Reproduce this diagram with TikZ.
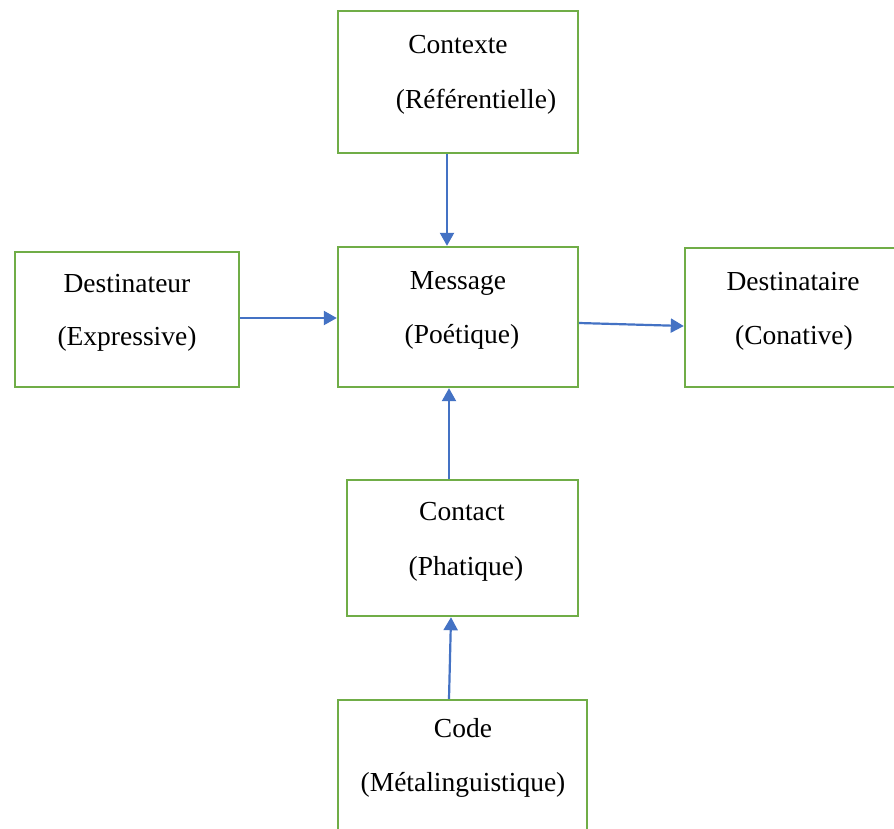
\documentclass[tikz,border=0pt]{standalone}
\usepackage{fontspec}
\setmainfont{Liberation Serif}
\usetikzlibrary{arrows.meta}
\definecolor{boxgreen}{HTML}{70AD47}
\definecolor{arrowblue}{HTML}{4472C4}
\tikzset{
  box/.style={draw=boxgreen, line width=2.4pt, rectangle, inner sep=0pt},
  lbl/.style={anchor=base, inner sep=0pt, font=\fontsize{27.5}{33}\selectfont},
  conn/.style={draw=arrowblue, line width=2.2pt, -{Triangle[length=13pt,width=14pt]}}
}
\begin{document}
\begin{tikzpicture}[x=1pt,y=-1pt]
\useasboundingbox (0,0) rectangle (894,828);
\clip (0,0) rectangle (894,828);
\fill[white] (0,0) rectangle (894,828);
% boxes
\node[box, minimum width=240pt, minimum height=142pt] (ctx) at (458,82) {};
\node[box, minimum width=240pt, minimum height=140pt] (msg) at (458,317) {};
\node[box, minimum width=224pt, minimum height=135pt] (dst) at (127,319.5) {};
\node[box, minimum width=240pt, minimum height=139pt] (dte) at (805,317.5) {};
\node[box, minimum width=231pt, minimum height=136pt] (cnt) at (462.5,548) {};
\node[box, minimum width=249pt, minimum height=150pt] (cod) at (462.5,775) {};
% labels
\node[lbl] (ctx1) at (458,53) {Contexte};
\node[lbl] (ctx2) at (476,108) {(Référentielle)};
\node[lbl] (msg1) at (458,289) {Message};
\node[lbl] (msg2) at (462,343) {(Poétique)};
\node[lbl] (dst1) at (127,292) {Destinateur};
\node[lbl] (dst2) at (127,345) {(Expressive)};
\node[lbl] (dte1) at (793,290) {Destinataire};
\node[lbl] (dte2) at (794,344) {(Conative)};
\node[lbl] (cnt1) at (462,520) {Contact};
\node[lbl] (cnt2) at (466,575) {(Phatique)};
\node[lbl] (cod1) at (463,737) {Code};
\node[lbl] (cod2) at (463,791) {(Métalinguistique)};
% connectors
\draw[conn] ([xshift=-11pt]ctx.south) -- ([xshift=-11pt]msg.north);
\draw[conn] ([yshift=1.5pt]dst.east) -- ([yshift=-1pt]msg.west);
\draw[conn] ([yshift=-6pt]msg.east) -- ([yshift=-8.5pt]dte.west);
\draw[conn] ([xshift=-13.5pt]cnt.north) -- ([xshift=-9pt]msg.south);
\draw[conn] ([xshift=-13.5pt]cod.north) -- ([xshift=-11.5pt]cnt.south);
\end{tikzpicture}
\end{document}
